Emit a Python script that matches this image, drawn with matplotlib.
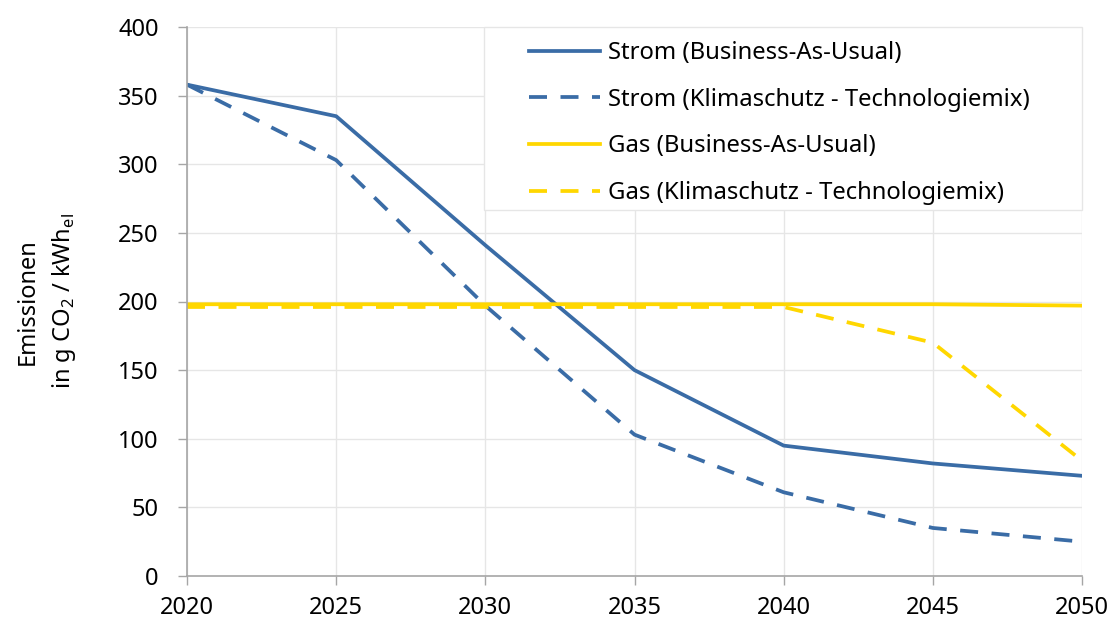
import matplotlib.pyplot as plt
import numpy as np
from matplotlib.patches import Rectangle

plt.rcParams.update(
    {
        "font.family": "Noto Sans",
        "font.size": 17,
        "mathtext.fontset": "custom",
        "mathtext.rm": "Noto Sans",
    }
)

years = [2020, 2025, 2030, 2035, 2040, 2045, 2050]
strom_bau = [358, 335, 241, 150, 95, 82, 73]
strom_ks = [358, 303, 197, 103, 61, 35, 25]
gas_bau = [198, 198, 198, 198, 198, 198, 197]
gas_ks = [196, 196, 196, 196, 196, 170, 84]

labels = [
    "Strom (Business-As-Usual)",
    "Strom (Klimaschutz - Technologiemix)",
    "Gas (Business-As-Usual)",
    "Gas (Klimaschutz - Technologiemix)",
]

blue = "#3A6CA6"
yellow = "#FFD700"

W, H = 1115, 628
fig = plt.figure(figsize=(W / 100, H / 100), dpi=100)
ax = fig.add_axes([187 / W, 52 / H, 895 / W, 549 / H])

lw = 2.7
dash = (0, (4.8, 3.6))
ax.plot(years, strom_bau, color=blue, lw=lw, label=labels[0])
ax.plot(years, strom_ks, color=blue, lw=lw, linestyle=dash, label=labels[1])
ax.plot(years, gas_bau, color=yellow, lw=lw, label=labels[2])
ax.plot(years, gas_ks, color=yellow, lw=lw, linestyle=dash, label=labels[3])

ax.set_xlim(2020, 2050)
ax.set_ylim(0, 400)
ax.set_xticks(years)
ax.set_yticks(np.arange(0, 401, 50))
ax.grid(True, color="#E6E6E6", lw=1.0)
ax.set_axisbelow(True)
for side in ["top", "right"]:
    ax.spines[side].set_visible(False)
for side in ["left", "bottom"]:
    ax.spines[side].set_color("#A6A6A6")
    ax.spines[side].set_linewidth(1.2)
ax.tick_params(axis="both", colors="#A6A6A6", length=6.5, width=1.0, labelcolor="black", labelsize=17)
ax.tick_params(axis="y", pad=14)
ax.tick_params(axis="x", pad=8)

ax.set_ylabel(
    "Emissionen\nin g CO$_\\mathregular{2}$ / kWh$_\\mathregular{el}$",
    fontsize=17,
    linespacing=1.5,
)
ax.yaxis.set_label_coords(-109 / 895, 0.5)

# legend box spans beyond the legend entries, drawn separately
fig.add_artist(
    Rectangle(
        (484 / W, 1 - 210 / H),
        598 / W,
        183 / H,
        transform=fig.transFigure,
        facecolor="white",
        edgecolor="#E6E6E6",
        lw=1.0,
        zorder=3,
    )
)
leg = fig.legend(
    loc="upper left",
    bbox_to_anchor=(529 / W, 1 - 41 / H),
    frameon=False,
    handlelength=2.97,
    handletextpad=0.34,
    labelspacing=0.95,
    borderpad=0,
    borderaxespad=0,
    fontsize=17.2,
)
leg.set_zorder(5)

fig.savefig("out.png", dpi=100, facecolor="white")
